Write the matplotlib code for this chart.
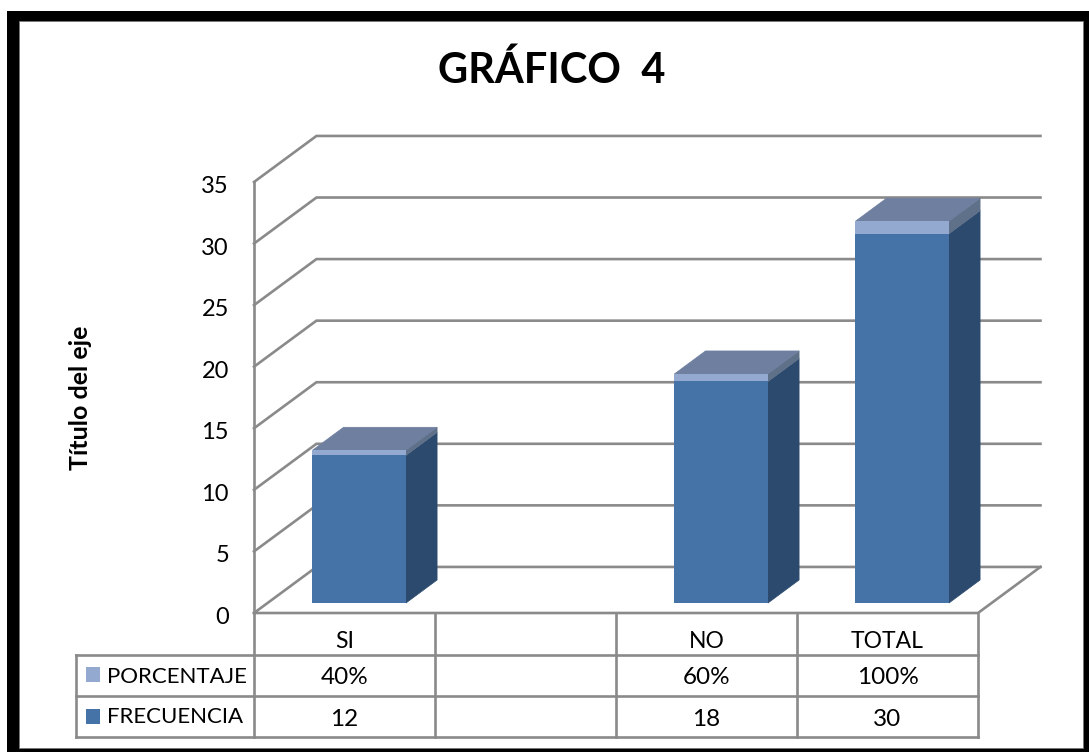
import matplotlib.pyplot as plt
from matplotlib.patches import Polygon, Rectangle
from matplotlib.transforms import ScaledTranslation

categorias = ["SI", "", "NO", "TOTAL"]
frecuencia = [12, 0, 18, 30]
porcentaje = [0.4, 0, 0.6, 1.0]
frec_labels = ["12", "", "18", "30"]
porc_labels = ["40%", "", "60%", "100%"]
yticks = [0, 5, 10, 15, 20, 25, 30, 35]

GRID = '#8a8a8a'
AZUL = ['#4573a7', '#2c4a6e', '#6f7f9f']
CLARO = ['#93a9cf', '#5f7089', '#6f7f9f']
LW = 1.9

W, H = 1089, 752
plt.rcParams['font.family'] = ['Lato', 'DejaVu Sans']
fig = plt.figure(figsize=(W / 100, H / 100), dpi=100, facecolor='white')

# overlay in pixels for the frame, the table and the titles
bg = fig.add_axes([0, 0, 1, 1])
bg.set_xlim(0, W)
bg.set_ylim(H, 0)
bg.axis('off')
bg.add_patch(Rectangle((7, 11), W - 7, H - 11, fc='black', ec='none'))
bg.add_patch(Rectangle((19, 21), 1064, 727, fc='white', ec='#777777', lw=0.6))

ax = fig.add_axes([254 / W, 1 - 613 / H, 724 / W, 431 / H])
ax.patch.set_alpha(0)
ax.set_xlim(-0.5, 3.5)
ax.set_ylim(0, 35)
for s in ax.spines.values():
    s.set_visible(False)

# depth of the walls and of the bars, in data units
wall_dx, wall_dy = 0.345, 3.74
bar_dx, bar_dy = 0.172, 1.87
bar_off_x, bar_off_y = 0.081, 0.81
bar_w = 0.517

# walls
for v in yticks:
    ax.plot([-0.5, -0.5 + wall_dx, 3.5 + wall_dx],
            [v, v + wall_dy, v + wall_dy],
            color=GRID, lw=LW, clip_on=False, zorder=1, solid_joinstyle='miter')
ax.plot([-0.5, -0.5], [0, 35], color=GRID, lw=LW, clip_on=False, zorder=1)
ax.plot([-0.5, 3.5, 3.5 + wall_dx], [0, 0, wall_dy], color=GRID, lw=LW,
        clip_on=False, zorder=1, solid_joinstyle='miter')


def caja(x, y0, alto, cols, z):
    l = x + bar_off_x - bar_w / 2
    r = l + bar_w
    b = y0 + bar_off_y
    t = b + alto
    ax.add_patch(Polygon([(r, b), (r + bar_dx, b + bar_dy), (r + bar_dx, t + bar_dy), (r, t)],
                         fc=cols[1], ec=cols[1], lw=0.5, zorder=z, clip_on=False))
    ax.add_patch(Polygon([(l, t), (l + bar_dx, t + bar_dy), (r + bar_dx, t + bar_dy), (r, t)],
                         fc=cols[2], ec=cols[2], lw=0.5, zorder=z, clip_on=False))
    ax.bar(x + bar_off_x, alto, bar_w, bottom=b, color=cols[0], zorder=z, clip_on=False)


for i in range(len(categorias)):
    if frecuencia[i] == 0:
        continue
    caja(i, 0, frecuencia[i], AZUL, 3)
    caja(i, frecuencia[i], porcentaje[i], CLARO, 3)

ax.set_yticks(yticks)
ax.set_xticks(range(len(categorias)))
ax.set_xticklabels(categorias)
ax.tick_params(axis='y', length=0, pad=18, labelsize=17, colors='black')
ax.tick_params(axis='x', length=0, pad=13, labelsize=16.5, colors='black')
# the labels sit a little under their gridlines
down = ScaledTranslation(0, -2.5 / 72 * 0.72, fig.dpi_scale_trans)
for lab in ax.get_yticklabels():
    lab.set_transform(lab.get_transform() + down)

# data table under the chart
cols_x = [254, 435, 616, 797, 978]
rows_y = [613, 655, 696, 737]
for x in cols_x:
    bg.plot([x, x], [rows_y[0], rows_y[-1]], color=GRID, lw=LW)
bg.plot([76, 76], [rows_y[1], rows_y[-1]], color=GRID, lw=LW)
for y in rows_y[1:]:
    bg.plot([76, 978], [y, y], color=GRID, lw=LW)

for i in range(len(categorias)):
    xc = (cols_x[i] + cols_x[i + 1]) / 2
    bg.text(xc, 678, porc_labels[i], ha='center', va='center', fontsize=17.5)
    bg.text(xc, 719, frec_labels[i], ha='center', va='center', fontsize=17.5)

bg.add_patch(Rectangle((86, 667), 14, 15, fc=CLARO[0], ec='none'))
bg.add_patch(Rectangle((86, 709), 14, 15, fc=AZUL[0], ec='none'))
bg.text(107, 677, "PORCENTAJE", ha='left', va='center', fontsize=16)
bg.text(107, 717, "FRECUENCIA", ha='left', va='center', fontsize=16)

bg.text(552, 70, "GRÁFICO  4", ha='center', va='center', fontsize=30, fontweight='bold')
bg.text(80, 398, "Título del eje", ha='center', va='center', rotation=90,
        fontsize=18, fontweight='bold')

fig.savefig("out.png", dpi=100)
